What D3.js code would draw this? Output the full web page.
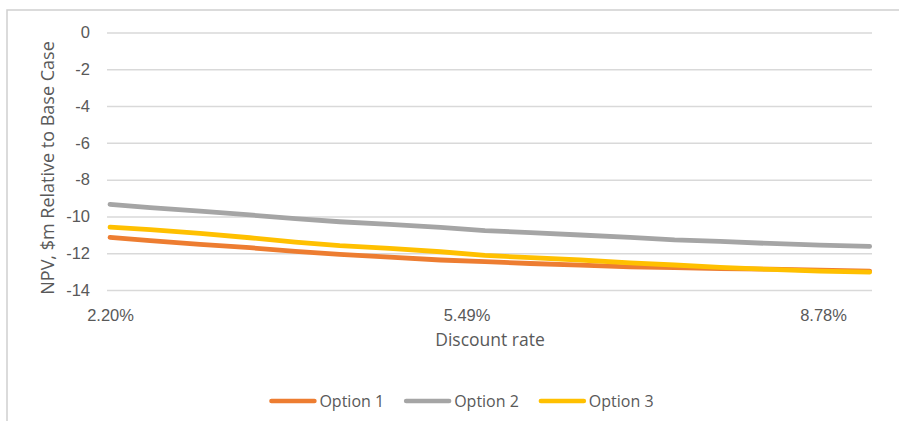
<!DOCTYPE html>
<html>
<head>
<meta charset="utf-8">
<script src="https://cdn.jsdelivr.net/npm/d3@7/dist/d3.min.js"></script>
<style>
  html, body { margin: 0; padding: 0; background: #fff; }
  svg { display: block; font-family: "Open Sans", "Noto Sans", sans-serif; }
  text { fill: #595959; }
</style>
</head>
<body>
<svg id="chart" width="899" height="421"></svg>
<script>
// Discount rate (%) at each sampled point
const rates = [2.20, 2.57, 3.03, 3.49, 3.91, 4.32, 4.78, 5.25, 5.66, 6.08, 6.54, 7.00, 7.41, 7.83, 8.29, 8.75, 9.21];

// NPV relative to base case ($m)
const option1 = [-11.14, -11.32, -11.52, -11.70, -11.90, -12.06, -12.21, -12.37, -12.46, -12.56, -12.65, -12.74, -12.78, -12.83, -12.87, -12.92, -12.97];
const option2 = [-9.34, -9.52, -9.71, -9.92, -10.12, -10.29, -10.43, -10.59, -10.77, -10.88, -11.01, -11.14, -11.28, -11.36, -11.47, -11.56, -11.63];
const option3 = [-10.58, -10.72, -10.92, -11.16, -11.40, -11.59, -11.74, -11.92, -12.12, -12.24, -12.37, -12.52, -12.64, -12.77, -12.88, -12.97, -13.03];

const seriesNames = ["Option 1", "Option 2", "Option 3"];
const seriesColors = ["#ED7D31", "#A5A5A5", "#FFC000"];
const yTicks = [0, -2, -4, -6, -8, -10, -12, -14];
const xTicks = [2.20, 5.49, 8.78];

const series = [option1, option2, option3].map((vals, i) => ({
  name: seriesNames[i],
  color: seriesColors[i],
  points: rates.map((r, j) => ({ r, v: vals[j] }))
}));

const svg = d3.select("#chart");

// chart frame
svg.append("rect")
  .attr("x", 7).attr("y", 10)
  .attr("width", 920).attr("height", 440)
  .attr("fill", "none")
  .attr("stroke", "#CFCFCF")
  .attr("stroke-width", 1.5);

const plot = { left: 107, right: 872, top: 32.5, bottom: 290 };

const x = d3.scaleLinear().domain([2.172, 9.232]).range([plot.left, plot.right]);
const y = d3.scaleLinear().domain([-14, 0]).range([plot.bottom, plot.top]);

// y axis with gridlines
const yAxis = svg.append("g")
  .attr("transform", `translate(${plot.left},0)`)
  .call(d3.axisLeft(y)
    .tickValues(yTicks)
    .tickFormat(d => d3.format("d")(d).replace("−", "-"))
    .tickSizeInner(-(plot.right - plot.left))
    .tickSizeOuter(0)
    .tickPadding(17));
yAxis.select(".domain").remove();
yAxis.selectAll(".tick line").attr("stroke", "#D9D9D9").attr("stroke-width", 1.5);
yAxis.selectAll(".tick text").attr("font-size", 16.5).attr("fill", "#595959");

// x axis labels
const xAxis = svg.append("g")
  .attr("transform", `translate(0,${plot.bottom})`)
  .call(d3.axisBottom(x)
    .tickValues(xTicks)
    .tickFormat(d => d.toFixed(2) + "%")
    .tickSize(0)
    .tickPadding(19));
xAxis.select(".domain").remove();
xAxis.selectAll(".tick text").attr("font-size", 16.5).attr("fill", "#595959");

// axis titles
svg.append("text")
  .attr("x", 490).attr("y", 346)
  .attr("text-anchor", "middle")
  .attr("font-size", 17.5)
  .text("Discount rate");

svg.append("text")
  .attr("transform", "translate(47,168) rotate(-90)")
  .attr("text-anchor", "middle")
  .attr("dominant-baseline", "central")
  .attr("font-size", 18)
  .text("NPV, $m Relative to Base Case");

// series lines
const line = d3.line().x(d => x(d.r)).y(d => y(d.v));
svg.append("g").selectAll("path")
  .data(series)
  .join("path")
  .attr("d", d => line(d.points))
  .attr("fill", "none")
  .attr("stroke", d => d.color)
  .attr("stroke-width", 4.8)
  .attr("stroke-linecap", "round")
  .attr("stroke-linejoin", "round");

// legend
const legend = svg.append("g");
const lineLen = 43, textGap = 5, itemGap = 22, legendY = 401;
let cursor = 0;
series.forEach(s => {
  const g = legend.append("g");
  g.append("line")
    .attr("x1", 0).attr("x2", lineLen)
    .attr("y1", legendY).attr("y2", legendY)
    .attr("stroke", s.color)
    .attr("stroke-width", 4.5)
    .attr("stroke-linecap", "round");
  const t = g.append("text")
    .attr("x", lineLen + textGap)
    .attr("y", legendY + 6)
    .attr("font-size", 16)
    .text(s.name);
  const w = lineLen + textGap + t.node().getComputedTextLength();
  g.attr("transform", `translate(${cursor},0)`);
  cursor += w + itemGap;
});
const totalW = cursor - itemGap;
legend.attr("transform", `translate(${462.5 - totalW / 2},0)`);
</script>
</body>
</html>
